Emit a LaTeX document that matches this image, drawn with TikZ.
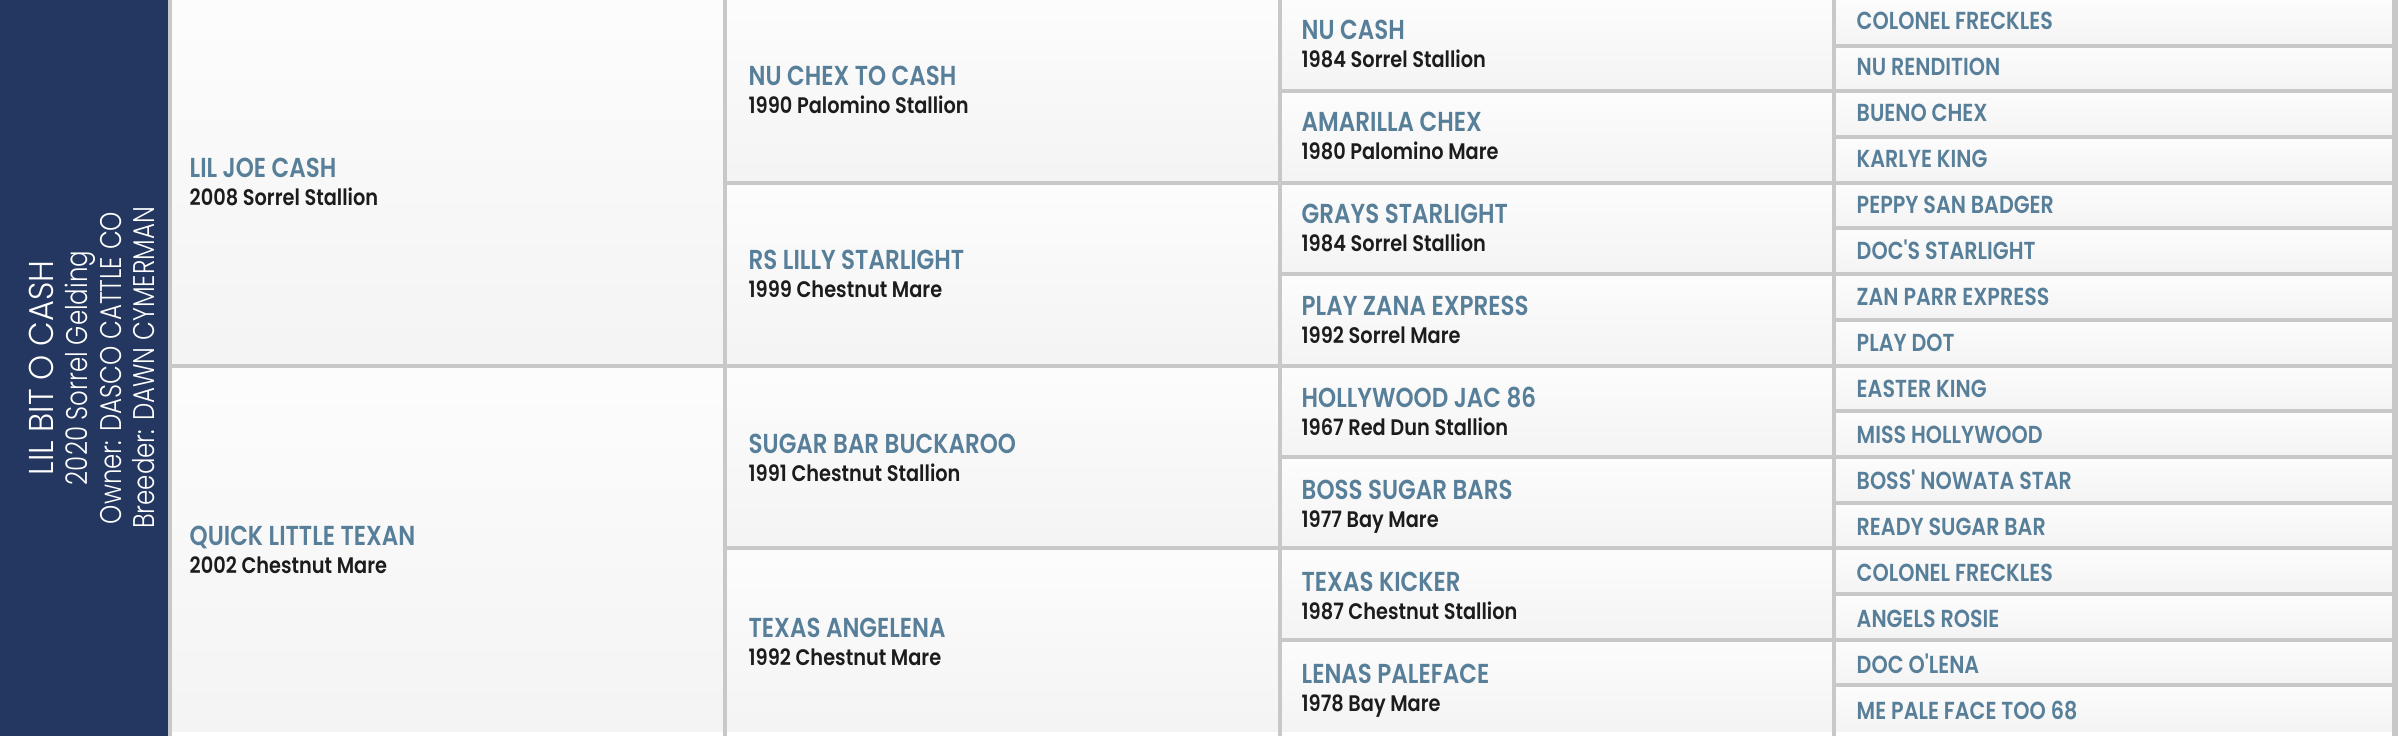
\documentclass[tikz,border=0pt]{standalone}
\usepackage{fontspec}
\setmainfont{Poppins}
\newfontfamily\namefont{Poppins SemiBold}[FakeStretch=0.84]
\newfontfamily\bornfont{Poppins SemiBold}[FakeStretch=0.86]
\newfontfamily\barfont{Poppins Light}[FakeStretch=0.82]
\newfontfamily\foalfont{Poppins Light}[FakeStretch=0.93]
\definecolor{barblue}{RGB}{36,55,96}
\definecolor{nameblue}{RGB}{88,127,153}
\definecolor{bornblack}{RGB}{28,28,28}
\definecolor{linegray}{RGB}{200,200,200}

\begin{document}
\begin{tikzpicture}[
    x=0.1mm, y=-0.1mm,  % one unit is one pixel, counted down from the top
    horse/.style = {anchor=base west, inner sep=0pt, text=nameblue, font=\namefont\fontsize{7.8}{9}\selectfont},
    oldhorse/.style = {horse, font=\namefont\fontsize{7.0}{8}\selectfont},
    born/.style = {anchor=base west, inner sep=0pt, text=bornblack, font=\bornfont\fontsize{6.4}{7}\selectfont},
    barline/.style = {rotate=90, anchor=base, inner sep=0pt, text=white, font=\barfont\fontsize{8.5}{9}\selectfont},
    gridline/.style = {linegray, line width=0.4mm}
  ]
    \useasboundingbox[fill=white] (0,0) rectangle (2398,736);
    \fill[barblue] (0,0) rectangle (170,736);

    % cell backgrounds, one column at a time
    \foreach \xa/\xb/\h/\n in {170/725/365.6/1, 725/1280/182.8/3, 1280/1834/91.4/7, 1834/2395/45.7/15} {
      \foreach \k in {0,...,\n}
        \shade[top color=black!1, bottom color=black!4.5] (\xa,\k*\h) rectangle (\xb,\k*\h+\h);
    }
    \foreach \x in {169.5,725,1280,1834}
      \draw[gridline] (\x,0) -- (\x,736);
    \draw[gridline, line width=0.6mm] (2395,0) -- (2395,736);
    \draw[gridline] (170,365.6) -- (2395,365.6);
    \foreach \y in {182.8,548.4}
      \draw[gridline] (725,\y) -- (2395,\y);
    \foreach \k in {1,3,5,7}
      \draw[gridline] (1280,\k*91.4) -- (2395,\k*91.4);
    \foreach \k in {1,3,...,15}
      \draw[gridline] (1834,\k*45.7) -- (2395,\k*45.7);

    % the horse itself
    \node[barline, font=\foalfont\fontsize{9.8}{10}\selectfont] (foal) at (53,368) {LIL BIT O CASH};
    \node[barline] (foal-born) at (87,368) {2020 Sorrel Gelding};
    \node[barline] (owner) at (121,368) {Owner: DASCO CATTLE CO};
    \node[barline] (breeder) at (154,368) {Breeder: DAWN CYMERMAN};

    % parents
    \node[horse] (s) at (189,178) {LIL JOE CASH};
    \node[born] (s-born) at ([yshift=-2.75mm]s.base west) {2008 Sorrel Stallion};
    \node[horse] (d) at (189,546) {QUICK LITTLE TEXAN};
    \node[born] (d-born) at ([yshift=-2.75mm]d.base west) {2002 Chestnut Mare};

    % grandparents
    \node[horse] (ss) at (748,86) {NU CHEX TO CASH};
    \node[born] (ss-born) at ([yshift=-2.75mm]ss.base west) {1990 Palomino Stallion};
    \node[horse] (sd) at (748,270) {RS LILLY STARLIGHT};
    \node[born] (sd-born) at ([yshift=-2.75mm]sd.base west) {1999 Chestnut Mare};
    \node[horse] (ds) at (748,454) {SUGAR BAR BUCKAROO};
    \node[born] (ds-born) at ([yshift=-2.75mm]ds.base west) {1991 Chestnut Stallion};
    \node[horse] (dd) at (748,638) {TEXAS ANGELENA};
    \node[born] (dd-born) at ([yshift=-2.75mm]dd.base west) {1992 Chestnut Mare};

    % great-grandparents
    \node[horse] (sss) at (1301,40) {NU CASH};
    \node[born] (sss-born) at ([yshift=-2.75mm]sss.base west) {1984 Sorrel Stallion};
    \node[horse] (ssd) at (1301,132) {AMARILLA CHEX};
    \node[born] (ssd-born) at ([yshift=-2.75mm]ssd.base west) {1980 Palomino Mare};
    \node[horse] (sds) at (1301,224) {GRAYS STARLIGHT};
    \node[born] (sds-born) at ([yshift=-2.75mm]sds.base west) {1984 Sorrel Stallion};
    \node[horse] (sdd) at (1301,316) {PLAY ZANA EXPRESS};
    \node[born] (sdd-born) at ([yshift=-2.75mm]sdd.base west) {1992 Sorrel Mare};
    \node[horse] (dss) at (1301,408) {HOLLYWOOD JAC 86};
    \node[born] (dss-born) at ([yshift=-2.75mm]dss.base west) {1967 Red Dun Stallion};
    \node[horse] (dsd) at (1301,500) {BOSS SUGAR BARS};
    \node[born] (dsd-born) at ([yshift=-2.75mm]dsd.base west) {1977 Bay Mare};
    \node[horse] (dds) at (1301,592) {TEXAS KICKER};
    \node[born] (dds-born) at ([yshift=-2.75mm]dds.base west) {1987 Chestnut Stallion};
    \node[horse] (ddd) at (1301,684) {LENAS PALEFACE};
    \node[born] (ddd-born) at ([yshift=-2.75mm]ddd.base west) {1978 Bay Mare};

    % great-great-grandparents, names only
    \node[oldhorse] (ssss) at (1856,30) {COLONEL FRECKLES};
    \node[oldhorse] (sssd) at (1856,76) {NU RENDITION};
    \node[oldhorse] (ssds) at (1856,122) {BUENO CHEX};
    \node[oldhorse] (ssdd) at (1856,168) {KARLYE KING};
    \node[oldhorse] (sdss) at (1856,214) {PEPPY SAN BADGER};
    \node[oldhorse] (sdsd) at (1856,260) {DOC'S STARLIGHT};
    \node[oldhorse] (sdds) at (1856,306) {ZAN PARR EXPRESS};
    \node[oldhorse] (sddd) at (1856,352) {PLAY DOT};
    \node[oldhorse] (dsss) at (1856,398) {EASTER KING};
    \node[oldhorse] (dssd) at (1856,444) {MISS HOLLYWOOD};
    \node[oldhorse] (dsds) at (1856,490) {BOSS' NOWATA STAR};
    \node[oldhorse] (dsdd) at (1856,536) {READY SUGAR BAR};
    \node[oldhorse] (ddss) at (1856,582) {COLONEL FRECKLES};
    \node[oldhorse] (ddsd) at (1856,628) {ANGELS ROSIE};
    \node[oldhorse] (ddds) at (1856,674) {DOC O'LENA};
    \node[oldhorse] (dddd) at (1856,720) {ME PALE FACE TOO 68};
\end{tikzpicture}
\end{document}
